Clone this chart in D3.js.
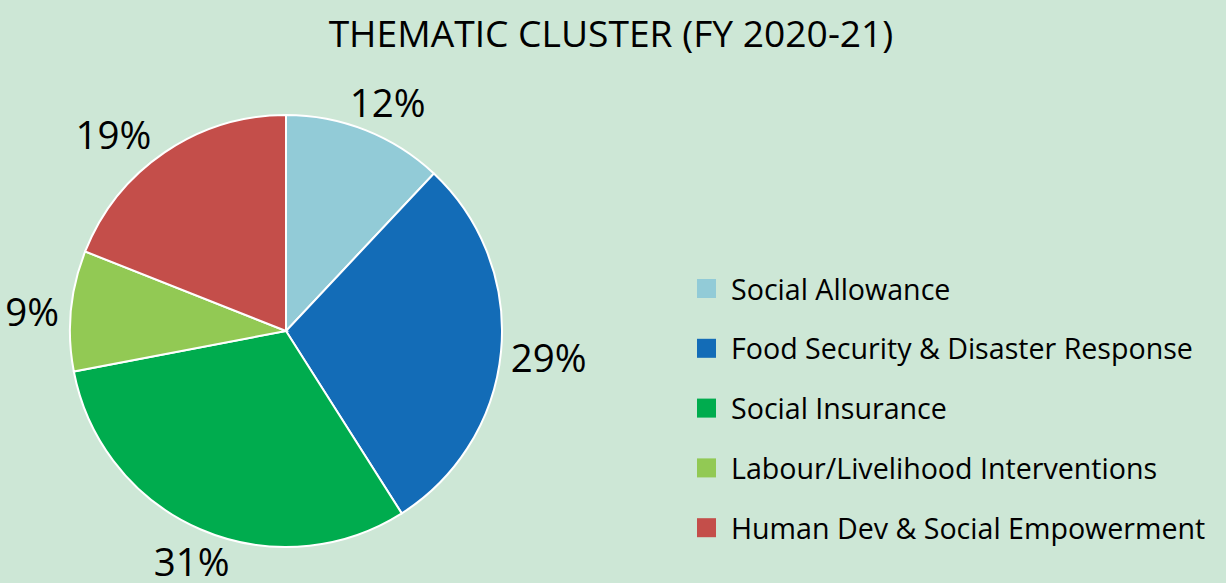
<!DOCTYPE html>
<html>
<head>
<meta charset="utf-8">
<script src="https://cdn.jsdelivr.net/npm/d3@7"></script>
<style>
  html, body { margin: 0; padding: 0; background: #cde7d6; }
  svg { display: block; font-family: "Open Sans", "Noto Sans", sans-serif; }
</style>
</head>
<body>
<div class="viz"></div>
<script>
var categories = ["Social Allowance", "Food Security & Disaster Response", "Social Insurance",
    "Labour/Livelihood Interventions", "Human Dev & Social Empowerment"];
var shares = [12, 29, 31, 9, 19];
var colors = ["#92cbd7", "#136cb7", "#00ac4e", "#92c954", "#c44e4a"];
var title = "THEMATIC CLUSTER (FY 2020-21)";

var width = 1226,
    height = 583,
    center = [286, 331],
    radius = 216;

var svg = d3.select(".viz").append("svg")
    .attr("width", width)
    .attr("height", height);

svg.append("rect")
    .attr("width", width)
    .attr("height", height)
    .attr("fill", "#cde7d6");

svg.append("text")
    .attr("x", 611)
    .attr("y", 47)
    .attr("text-anchor", "middle")
    .attr("font-size", 37.2)
    .attr("fill", "#000")
    .text(title);

var data = categories.map(function(c, i) {
    return { name: c, value: shares[i], color: colors[i] };
});

var pie = d3.pie()
    .sort(null)
    .value(function(d) { return d.value; });

var arc = d3.arc()
    .innerRadius(0)
    .outerRadius(radius);

var arcs = pie(data);

var g = svg.append("g")
    .attr("transform", "translate(" + center[0] + "," + center[1] + ")");

g.selectAll("path")
    .data(arcs)
    .enter().append("path")
    .attr("d", arc)
    .attr("fill", function(d) { return d.data.color; })
    .attr("stroke", "#fff")
    .attr("stroke-width", 2);

// labels sit just outside the slice end, box pushed outward by its own size,
// plus the small hand nudges the original layout has
var labelH = 36, labelGap = 14;
var nudge = [[3, 0], [-4, 1], [12, 0], [2, 1], [-22, 6]];
g.selectAll("text.lab")
    .data(arcs)
    .enter().append("text")
    .attr("class", "lab")
    .attr("font-size", 38.5)
    .attr("text-anchor", "middle")
    .attr("dominant-baseline", "central")
    .text(function(d) { return d.data.value + "%"; })
    .each(function(d, i) {
        var w = this.getComputedTextLength();
        var a = (d.startAngle + d.endAngle) / 2;
        var ux = Math.sin(a), uy = -Math.cos(a);
        d3.select(this)
            .attr("x", (radius + labelGap) * ux + ux * w / 2 + nudge[i][0])
            .attr("y", (radius + labelGap) * uy + uy * labelH / 2 + 2 + nudge[i][1]);
    });

var legend = svg.append("g")
    .attr("transform", "translate(697,288)");

var rows = legend.selectAll("g")
    .data(data)
    .enter().append("g")
    .attr("transform", function(d, i) { return "translate(0," + (i * 59.8) + ")"; });

rows.append("rect")
    .attr("x", 0)
    .attr("y", -9)
    .attr("width", 19)
    .attr("height", 19)
    .attr("fill", function(d) { return d.color; });

rows.append("text")
    .attr("x", 34)
    .attr("y", 0)
    .attr("dominant-baseline", "central")
    .attr("font-size", 28.6)
    .attr("fill", "#000")
    .text(function(d) { return d.name; });
</script>
</body>
</html>
